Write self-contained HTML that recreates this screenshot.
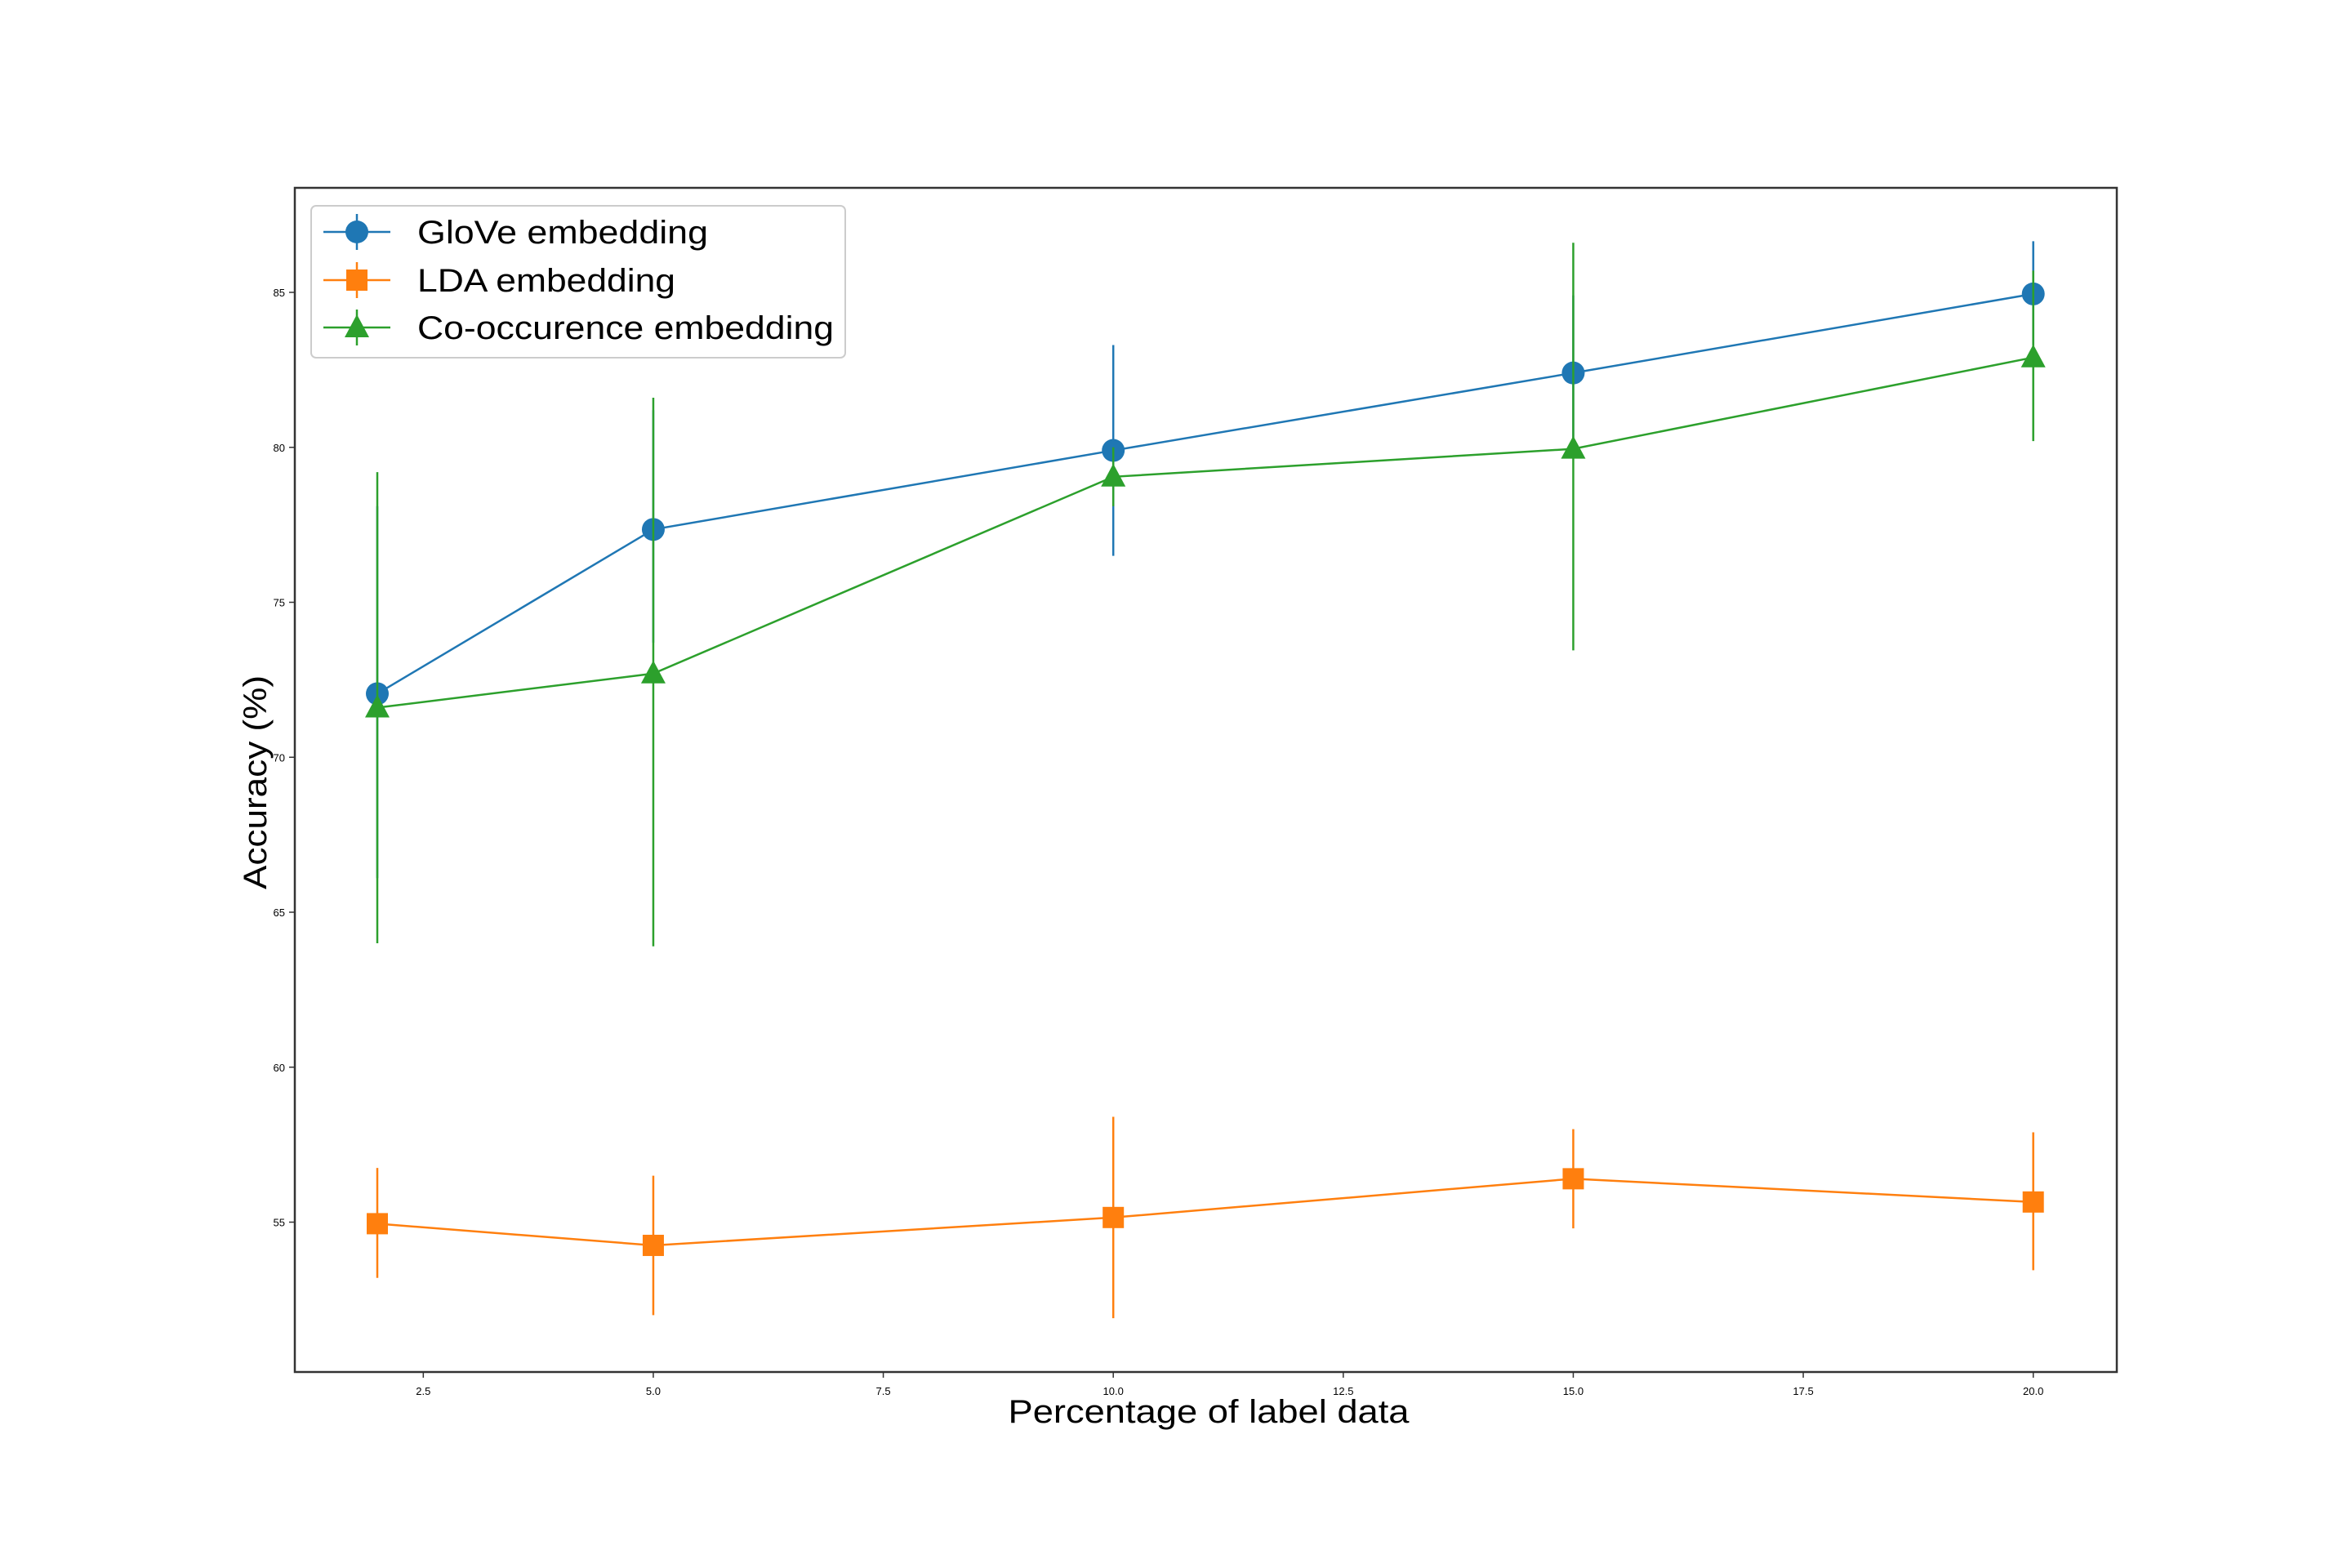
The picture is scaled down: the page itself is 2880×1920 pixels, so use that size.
<!DOCTYPE html>
<html><head><meta charset="utf-8"><style>html,body{margin:0;padding:0;background:#fff}svg{display:block}text{font-family:"Liberation Sans",sans-serif}</style></head>
<body>
<svg id="chart" width="2880" height="1920" viewBox="0 0 2880 1920" xmlns="http://www.w3.org/2000/svg">
<rect x="0" y="0" width="2880" height="1920" fill="#fff"/>
<g id="plot"></g>
</svg>
<script>
const categories = [2, 5, 10, 15, 20];
const gloveVals = [72.05, 77.35, 79.9, 82.4, 84.95];
const gloveLo = [66.1, 73.7, 76.5, 79.9, 83.3];
const gloveHi = [78.1, 81.2, 83.3, 84.9, 86.65];
const ldaVals = [54.95, 54.25, 55.15, 56.4, 55.65];
const ldaLo = [53.2, 52.0, 51.9, 54.8, 53.45];
const ldaHi = [56.75, 56.5, 58.4, 58.0, 57.9];
const coocVals = [71.6, 72.7, 79.05, 79.95, 82.9];
const coocLo = [64.0, 63.9, 78.1, 73.45, 80.2];
const coocHi = [79.2, 81.6, 80.0, 86.6, 85.7];
const xTicks = [2.5, 5.0, 7.5, 10.0, 12.5, 15.0, 17.5, 20.0];
const xTickLabels = ["2.5", "5.0", "7.5", "10.0", "12.5", "15.0", "17.5", "20.0"];
const yTicks = [55, 60, 65, 70, 75, 80, 85];
const yTickLabels = ["55", "60", "65", "70", "75", "80", "85"];

const L = 361, R = 2592, T = 230, B = 1680;
const xPx = v => 462 + (v - 2) * 112.65;
const yPx = v => 358 + (85 - v) * 37.95;
const NS = "http://www.w3.org/2000/svg";
const g = document.getElementById('plot');
function mk(tag, attrs, parent) {
  const e = document.createElementNS(NS, tag);
  for (const k in attrs) e.setAttribute(k, attrs[k]);
  (parent || g).appendChild(e);
  return e;
}

let fr = mk('rect', {x: L, y: T, width: R - L, height: B - T, fill: 'none', stroke: '#333', 'stroke-width': 2.5});



xTicks.forEach((t, i) => {
  const x = xPx(t);
  const tk = mk('line', {x1: x, x2: x, y1: B, y2: B + 7, stroke: '#333', 'stroke-width': 1.5});
  
  
  const tl = mk('text', {x: x, y: B + 28, 'font-size': 13, 'text-anchor': 'middle', fill: '#000'});
  tl.textContent = xTickLabels[i];
  
  
});
yTicks.forEach((t, i) => {
  const y = yPx(t);
  const tk = mk('line', {x1: L - 7, x2: L, y1: y, y2: y, stroke: '#333', 'stroke-width': 1.5});
  
  
  const tl = mk('text', {x: L - 12, y: y + 5, 'font-size': 13, 'text-anchor': 'end', fill: '#000'});
  tl.textContent = yTickLabels[i];
  
  
});

const xl = mk('text', {x: 1480, y: 1742, 'font-size': 40, 'text-anchor': 'middle', textLength: 491, lengthAdjust: 'spacingAndGlyphs', fill: '#000'});
xl.textContent = 'Percentage of label data';


const yl = mk('text', {x: 0, y: 0, 'font-size': 40, 'text-anchor': 'middle', textLength: 262, lengthAdjust: 'spacingAndGlyphs', fill: '#000', transform: 'translate(326,958) rotate(-90)'});
yl.textContent = 'Accuracy (%)';



function marker(kind, cx, cy, color, parent) {
  let m;
  if (kind === 'circle') m = mk('circle', {cx: cx, cy: cy, r: 14, fill: color}, parent);
  else if (kind === 'square') m = mk('rect', {x: cx - 13, y: cy - 13, width: 26, height: 26, fill: color}, parent);
  else m = mk('polygon', {points: `${cx},${cy - 16} ${cx - 15},${cy + 12} ${cx + 15},${cy + 12}`, fill: color}, parent);
  return m;
}

const series = [
  {name: 'glove', vals: gloveVals, lo: gloveLo, hi: gloveHi, color: '#1f77b4', kind: 'circle'},
  {name: 'lda', vals: ldaVals, lo: ldaLo, hi: ldaHi, color: '#ff7f0e', kind: 'square'},
  {name: 'cooc', vals: coocVals, lo: coocLo, hi: coocHi, color: '#2ca02c', kind: 'triangle'}
];
series.forEach(s => {
  const sg = mk('g', {});
  
  
  const pts = categories.map((c, i) => xPx(c) + ',' + yPx(s.vals[i])).join(' ');
  const pl = mk('polyline', {points: pts, fill: 'none', stroke: s.color, 'stroke-width': 2.5}, sg);
  
  
  categories.forEach((c, i) => {
    const x = xPx(c);
    const eb = mk('line', {x1: x, x2: x, y1: yPx(s.lo[i]), y2: yPx(s.hi[i]), stroke: s.color, 'stroke-width': 2.5}, sg);
    
    
  });
  categories.forEach((c, i) => {
    const m = marker(s.kind, xPx(c), yPx(s.vals[i]), s.color, sg);
    
    
  });
});

const lg = mk('g', {});


const lb = mk('rect', {x: 381, y: 252, width: 654, height: 186, rx: 6, fill: '#fff', 'fill-opacity': 0.8, stroke: '#ccc', 'stroke-width': 2}, lg);


const labels = ['GloVe embedding', 'LDA embedding', 'Co-occurence embedding'];
const widths = [356, 316, 510];
const rows = [284, 343, 401];
series.forEach((s, i) => {
  const y = rows[i];
  const eg = mk('g', {}, lg);
  
  
  mk('line', {x1: 396, x2: 478, y1: y, y2: y, stroke: s.color, 'stroke-width': 2.5}, eg);
  mk('line', {x1: 437, x2: 437, y1: y - 22, y2: y + 22, stroke: s.color, 'stroke-width': 2.5}, eg);
  marker(s.kind, 437, y, s.color, eg);
  const t = mk('text', {x: 511, y: y + 14, 'font-size': 40, textLength: widths[i], lengthAdjust: 'spacingAndGlyphs', fill: '#000'}, eg);
  t.textContent = labels[i];
});
</script>
</body></html>
